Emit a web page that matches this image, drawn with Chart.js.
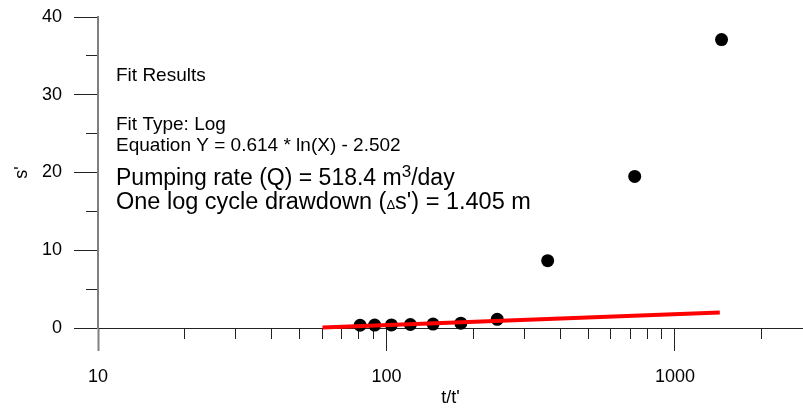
<!DOCTYPE html>
<html>
<head>
<meta charset="utf-8">
<script src="https://cdn.jsdelivr.net/npm/chart.js@4.4.1/dist/chart.umd.min.js"></script>
<style>
  html, body { margin: 0; padding: 0; overflow: hidden; background: #ffffff; }
  #wrap { width: 803px; height: 409px; position: relative; }
  #recoveryChart { display: block; }
</style>
</head>
<body>
<div id="wrap"><canvas id="recoveryChart"></canvas></div>
<script>
// tick values for the log x axis and the linear y axis
const xMajorTicks = [10, 100, 1000];
const xMinorTicks = [20, 30, 40, 50, 60, 70, 80, 90, 200, 300, 400, 500, 600, 700, 800, 900, 2000];
const yMajorTicks = [0, 10, 20, 30, 40];
const yMinorTicks = [5, 15, 25, 35];

// measured residual drawdown s' against t/t'
const ttValues = [81, 91, 104, 121, 145, 181, 242, 362, 725, 1450];
const sValues = [0.35, 0.37, 0.4, 0.45, 0.5, 0.62, 1.12, 8.66, 19.5, 37.1];

// end points of the fitted log line
const fitX = [60, 1430];
const fitY = [0.05, 2.0];

const fontFamily = '"Liberation Sans", Arial, sans-serif';

function toPoints(xs, ys) {
    let pts = [];
    for (let i = 0; i < xs.length; i++) {
        pts.push({ x: xs[i], y: ys[i] });
    }
    return pts;
}

function setTicks(list) {
    return function (scale) {
        scale.ticks = list.map(v => ({ value: v }));
    };
}

// keep the axis boxes from pushing the plot area around
function noEdgePadding(scale) {
    scale.paddingTop = 0;
    scale.paddingBottom = 0;
    scale.paddingLeft = 0;
    scale.paddingRight = 0;
}

// text block with the fit results
const fitResultsPlugin = {
    id: 'fitResults',
    afterDraw(chart) {
        const ctx = chart.ctx;
        const left = 116;
        ctx.save();
        ctx.fillStyle = '#000000';
        ctx.textBaseline = 'alphabetic';
        ctx.textAlign = 'left';

        ctx.font = '19px ' + fontFamily;
        ctx.fillText('Fit Results', left, 81);
        ctx.fillText('Fit Type: Log', left, 130);
        ctx.fillText('Equation Y = 0.614 * ln(X) - 2.502', left, 151);

        // pumping rate with superscript
        let x = left;
        ctx.font = '23px ' + fontFamily;
        let part = 'Pumping rate (Q) = 518.4 m';
        ctx.fillText(part, x, 185);
        x += ctx.measureText(part).width;
        ctx.font = '17px ' + fontFamily;
        ctx.fillText('3', x, 177);
        x += ctx.measureText('3').width;
        ctx.font = '23px ' + fontFamily;
        ctx.fillText('/day', x, 185);

        // drawdown line with a small delta
        x = left;
        ctx.font = '23.5px ' + fontFamily;
        part = 'One log cycle drawdown (';
        ctx.fillText(part, x, 209);
        x += ctx.measureText(part).width;
        ctx.font = '13px ' + fontFamily;
        ctx.fillText('\u0394', x, 209);
        x += ctx.measureText('\u0394').width;
        ctx.font = '23.5px ' + fontFamily;
        ctx.fillText("s') = 1.405 m", x, 209);
        ctx.restore();
    }
};

const canvas = document.getElementById('recoveryChart').getContext('2d');

new Chart(canvas, {
    type: 'scatter',
    data: {
        datasets: [
            {
                label: 'fit',
                type: 'line',
                data: toPoints(fitX, fitY),
                borderColor: '#ff0000',
                borderWidth: 4,
                pointRadius: 0,
                fill: false,
                clip: false,
                order: 1
            },
            {
                label: 'observed',
                data: toPoints(ttValues, sValues),
                backgroundColor: '#000000',
                borderColor: '#000000',
                borderWidth: 0,
                pointRadius: 6.5,
                clip: false,
                order: 2
            }
        ]
    },
    options: {
        responsive: true,
        maintainAspectRatio: false,
        animation: false,
        layout: {
            autoPadding: false,
            padding: { top: 17, right: 0, bottom: 0, left: 0 }
        },
        plugins: {
            legend: { display: false },
            tooltip: { enabled: false }
        },
        scales: {
            x: {
                type: 'logarithmic',
                position: 'bottom',
                min: 10,
                max: 2778,
                afterBuildTicks: setTicks(xMajorTicks),
                afterFit: function (scale) {
                    scale.height = 81;
                    noEdgePadding(scale);
                },
                border: { display: true, color: '#222222', width: 1 },
                grid: {
                    drawOnChartArea: false,
                    drawTicks: true,
                    tickLength: 23,
                    tickColor: c => (c.tick && c.tick.value === 10 ? '#808080' : '#222222'),
                    tickWidth: c => (c.tick && c.tick.value === 10 ? 2 : 1)
                },
                ticks: {
                    autoSkip: false,
                    maxRotation: 0,
                    padding: 15,
                    color: '#000000',
                    font: { family: fontFamily, size: 18 },
                    callback: v => String(v)
                },
                title: {
                    display: true,
                    text: "t/t'",
                    color: '#000000',
                    padding: { top: 0, bottom: 0 },
                    font: { family: fontFamily, size: 18 }
                }
            },
            xMinor: {
                axis: 'x',
                type: 'logarithmic',
                position: { y: 0 },
                min: 10,
                max: 2778,
                afterBuildTicks: setTicks(xMinorTicks),
                afterFit: noEdgePadding,
                border: { display: false },
                grid: {
                    drawOnChartArea: false,
                    drawTicks: true,
                    tickLength: 11,
                    tickColor: '#222222',
                    tickWidth: 1
                },
                ticks: { display: false, autoSkip: false }
            },
            y: {
                type: 'linear',
                position: 'left',
                min: 0,
                max: 40,
                afterBuildTicks: setTicks(yMajorTicks),
                afterFit: function (scale) {
                    scale.width = 98;
                    noEdgePadding(scale);
                },
                border: { display: true, color: '#808080', width: 2 },
                grid: {
                    drawOnChartArea: false,
                    drawTicks: true,
                    tickLength: 24,
                    tickColor: '#222222',
                    tickWidth: 1
                },
                ticks: {
                    autoSkip: false,
                    padding: 12,
                    color: '#000000',
                    font: { family: fontFamily, size: 18 }
                },
                title: {
                    display: true,
                    text: "s'",
                    color: '#000000',
                    padding: { top: 11, bottom: 0 },
                    font: { family: fontFamily, size: 18 }
                }
            },
            yMinor: {
                axis: 'y',
                type: 'linear',
                position: { x: 10 },
                min: 0,
                max: 40,
                afterBuildTicks: setTicks(yMinorTicks),
                afterFit: noEdgePadding,
                border: { display: false },
                grid: {
                    drawOnChartArea: false,
                    drawTicks: true,
                    tickLength: 12,
                    tickColor: '#222222',
                    tickWidth: 1
                },
                ticks: { display: false, autoSkip: false }
            }
        }
    },
    plugins: [fitResultsPlugin]
});
</script>
</body>
</html>
